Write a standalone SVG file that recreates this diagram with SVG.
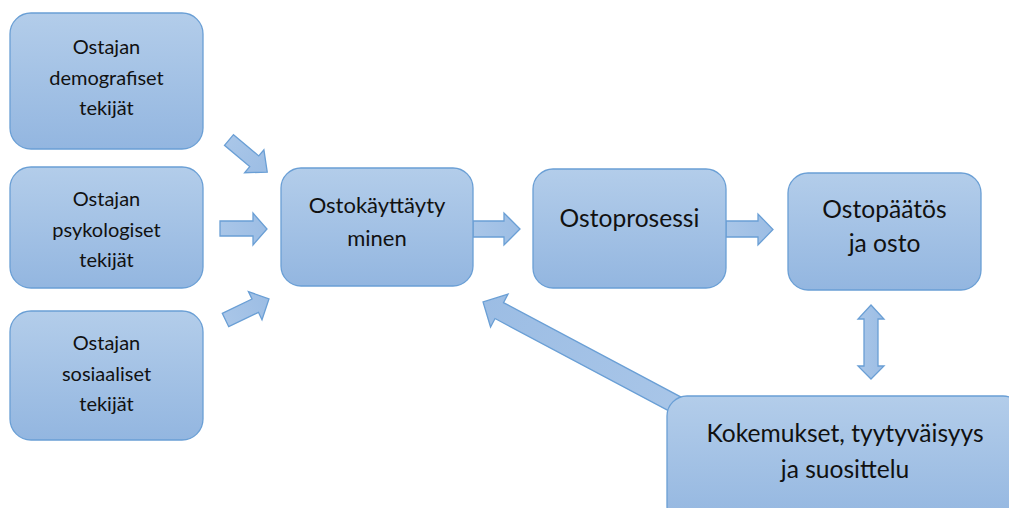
<svg xmlns="http://www.w3.org/2000/svg" width="1009" height="508" viewBox="0 0 1009 508">
<defs>
<linearGradient id="g" x1="0" y1="0" x2="0" y2="1">
<stop offset="0" stop-color="#b3cdea"/>
<stop offset="1" stop-color="#93b6e0"/>
</linearGradient>
<linearGradient id="ga" x1="0" y1="0" x2="1" y2="0">
<stop offset="0" stop-color="#a9c6e8"/>
<stop offset="1" stop-color="#9cbde4"/>
</linearGradient>
<style>
.box{fill:url(#g);stroke:#6a9fd5;stroke-width:1.3}
.arr{fill:url(#ga);stroke:#6a9fd5;stroke-width:1.3;stroke-linejoin:miter}
text{font-family:Lato,"Open Sans","Liberation Sans",sans-serif;fill:#111;text-anchor:middle}
.s{font-size:20px}
.c{font-size:22px}
.m{font-size:24.6px}
</style>
</defs>
<rect width="1009" height="508" fill="#fff"/>
<g id="connectors">
<polygon class="arr" transform="translate(229,140) rotate(40.1)" points="0,-7 33,-7 33,-15 50,0 33,15 33,7 0,7"/>
<polygon class="arr" points="220,221 253,221 253,213 267,229 253,245 253,236 220,236"/>
<polygon class="arr" transform="translate(225.5,320) rotate(-25.8)" points="0,-7.4 33,-7.4 33,-15.6 48.3,0 33,15.6 33,7.4 0,7.4"/>
<polygon class="arr" points="473,221 504,221 504,213 520,229 504,245 504,237 473,237"/>
<polygon class="arr" points="726,221 758,221 758,214 773,229.5 758,245 758,237 726,237"/>
<polygon class="arr" transform="translate(690,412) rotate(208)" points="0,-9 216,-9 216,-18.6 234.4,0 216,18.6 216,9 0,9"/>
<polygon class="arr" points="871,305 884,319 878,319 878,366 884,366 871,379 858,366 864,366 864,319 858,319"/>
</g>
<g id="n1"><rect class="box" x="10" y="13" width="193" height="136" rx="21"/>
<text class="s" x="106.5" y="54">Ostajan</text><text class="s" x="106.5" y="85">demografiset</text><text class="s" x="106.5" y="115">tekijät</text></g>
<g id="n2"><rect class="box" x="10" y="167" width="193" height="121" rx="21"/>
<text class="s" x="106.5" y="206">Ostajan</text><text class="s" x="106.5" y="237">psykologiset</text><text class="s" x="106.5" y="267">tekijät</text></g>
<g id="n3"><rect class="box" x="10" y="311" width="193" height="129" rx="21"/>
<text class="s" x="106.5" y="350">Ostajan</text><text class="s" x="106.5" y="381">sosiaaliset</text><text class="s" x="106.5" y="411">tekijät</text></g>
<g id="n4"><rect class="box" x="281" y="168" width="192" height="118" rx="20"/>
<text class="c" x="377" y="213">Ostokäyttäyty</text><text class="c" x="377" y="246">minen</text></g>
<g id="n5"><rect class="box" x="533" y="169" width="193" height="119" rx="20"/>
<text class="m" x="629.5" y="227">Ostoprosessi</text></g>
<g id="n6"><rect class="box" x="788" y="173" width="193" height="117" rx="20"/>
<text class="m" x="884.5" y="218">Ostopäätös</text><text class="m" x="884.5" y="252">ja osto</text></g>
<g id="n7"><rect class="box" x="667" y="396" width="356" height="130" rx="20"/>
<text class="m" x="845" y="442">Kokemukset, tyytyväisyys</text><text class="m" x="845" y="478">ja suosittelu</text></g>
</svg>
